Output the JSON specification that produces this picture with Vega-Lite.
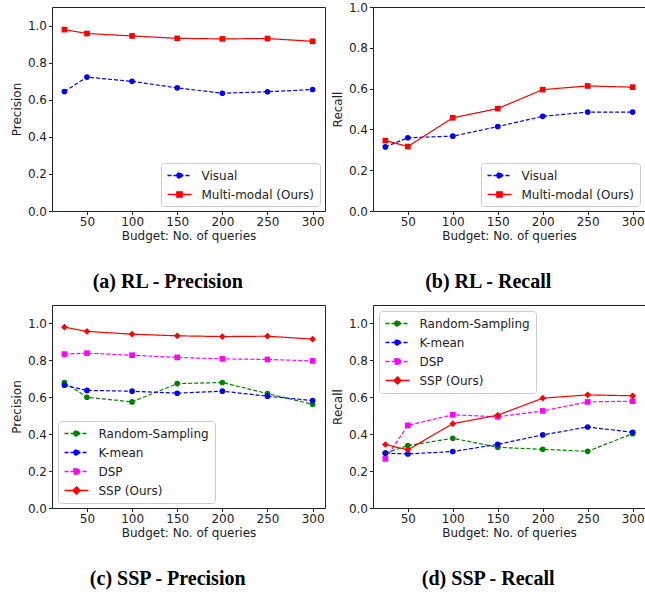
{
  "$schema": "https://vega.github.io/schema/vega-lite/v6.json",
  "padding": {"left": 9, "top": 0, "right": 0, "bottom": 0},
  "background": "white",
  "datasets": {
    "a": [
      {"budget": 25, "value": 0.644, "method": "Visual"},
      {"budget": 50, "value": 0.722, "method": "Visual"},
      {"budget": 100, "value": 0.699, "method": "Visual"},
      {"budget": 150, "value": 0.664, "method": "Visual"},
      {"budget": 200, "value": 0.635, "method": "Visual"},
      {"budget": 250, "value": 0.643, "method": "Visual"},
      {"budget": 300, "value": 0.655, "method": "Visual"},
      {"budget": 25, "value": 0.978, "method": "Multi-modal (Ours)"},
      {"budget": 50, "value": 0.957, "method": "Multi-modal (Ours)"},
      {"budget": 100, "value": 0.944, "method": "Multi-modal (Ours)"},
      {"budget": 150, "value": 0.931, "method": "Multi-modal (Ours)"},
      {"budget": 200, "value": 0.928, "method": "Multi-modal (Ours)"},
      {"budget": 250, "value": 0.930, "method": "Multi-modal (Ours)"},
      {"budget": 300, "value": 0.915, "method": "Multi-modal (Ours)"}
    ],
    "b": [
      {"budget": 25, "value": 0.314, "method": "Visual"},
      {"budget": 50, "value": 0.359, "method": "Visual"},
      {"budget": 100, "value": 0.367, "method": "Visual"},
      {"budget": 150, "value": 0.414, "method": "Visual"},
      {"budget": 200, "value": 0.464, "method": "Visual"},
      {"budget": 250, "value": 0.485, "method": "Visual"},
      {"budget": 300, "value": 0.485, "method": "Visual"},
      {"budget": 25, "value": 0.345, "method": "Multi-modal (Ours)"},
      {"budget": 50, "value": 0.316, "method": "Multi-modal (Ours)"},
      {"budget": 100, "value": 0.457, "method": "Multi-modal (Ours)"},
      {"budget": 150, "value": 0.502, "method": "Multi-modal (Ours)"},
      {"budget": 200, "value": 0.595, "method": "Multi-modal (Ours)"},
      {"budget": 250, "value": 0.613, "method": "Multi-modal (Ours)"},
      {"budget": 300, "value": 0.607, "method": "Multi-modal (Ours)"}
    ],
    "c": [
      {"budget": 25, "value": 0.680, "method": "Random-Sampling"},
      {"budget": 50, "value": 0.600, "method": "Random-Sampling"},
      {"budget": 100, "value": 0.575, "method": "Random-Sampling"},
      {"budget": 150, "value": 0.674, "method": "Random-Sampling"},
      {"budget": 200, "value": 0.680, "method": "Random-Sampling"},
      {"budget": 250, "value": 0.620, "method": "Random-Sampling"},
      {"budget": 300, "value": 0.562, "method": "Random-Sampling"},
      {"budget": 25, "value": 0.665, "method": "K-mean"},
      {"budget": 50, "value": 0.637, "method": "K-mean"},
      {"budget": 100, "value": 0.633, "method": "K-mean"},
      {"budget": 150, "value": 0.622, "method": "K-mean"},
      {"budget": 200, "value": 0.633, "method": "K-mean"},
      {"budget": 250, "value": 0.606, "method": "K-mean"},
      {"budget": 300, "value": 0.582, "method": "K-mean"},
      {"budget": 25, "value": 0.834, "method": "DSP"},
      {"budget": 50, "value": 0.839, "method": "DSP"},
      {"budget": 100, "value": 0.828, "method": "DSP"},
      {"budget": 150, "value": 0.816, "method": "DSP"},
      {"budget": 200, "value": 0.808, "method": "DSP"},
      {"budget": 250, "value": 0.805, "method": "DSP"},
      {"budget": 300, "value": 0.797, "method": "DSP"},
      {"budget": 25, "value": 0.980, "method": "SSP (Ours)"},
      {"budget": 50, "value": 0.957, "method": "SSP (Ours)"},
      {"budget": 100, "value": 0.942, "method": "SSP (Ours)"},
      {"budget": 150, "value": 0.933, "method": "SSP (Ours)"},
      {"budget": 200, "value": 0.929, "method": "SSP (Ours)"},
      {"budget": 250, "value": 0.931, "method": "SSP (Ours)"},
      {"budget": 300, "value": 0.915, "method": "SSP (Ours)"}
    ],
    "d": [
      {"budget": 25, "value": 0.298, "method": "Random-Sampling"},
      {"budget": 50, "value": 0.338, "method": "Random-Sampling"},
      {"budget": 100, "value": 0.378, "method": "Random-Sampling"},
      {"budget": 150, "value": 0.329, "method": "Random-Sampling"},
      {"budget": 200, "value": 0.318, "method": "Random-Sampling"},
      {"budget": 250, "value": 0.307, "method": "Random-Sampling"},
      {"budget": 300, "value": 0.403, "method": "Random-Sampling"},
      {"budget": 25, "value": 0.297, "method": "K-mean"},
      {"budget": 50, "value": 0.293, "method": "K-mean"},
      {"budget": 100, "value": 0.306, "method": "K-mean"},
      {"budget": 150, "value": 0.345, "method": "K-mean"},
      {"budget": 200, "value": 0.396, "method": "K-mean"},
      {"budget": 250, "value": 0.439, "method": "K-mean"},
      {"budget": 300, "value": 0.410, "method": "K-mean"},
      {"budget": 25, "value": 0.266, "method": "DSP"},
      {"budget": 50, "value": 0.448, "method": "DSP"},
      {"budget": 100, "value": 0.505, "method": "DSP"},
      {"budget": 150, "value": 0.494, "method": "DSP"},
      {"budget": 200, "value": 0.526, "method": "DSP"},
      {"budget": 250, "value": 0.575, "method": "DSP"},
      {"budget": 300, "value": 0.579, "method": "DSP"},
      {"budget": 25, "value": 0.344, "method": "SSP (Ours)"},
      {"budget": 50, "value": 0.315, "method": "SSP (Ours)"},
      {"budget": 100, "value": 0.457, "method": "SSP (Ours)"},
      {"budget": 150, "value": 0.503, "method": "SSP (Ours)"},
      {"budget": 200, "value": 0.595, "method": "SSP (Ours)"},
      {"budget": 250, "value": 0.613, "method": "SSP (Ours)"},
      {"budget": 300, "value": 0.608, "method": "SSP (Ours)"}
    ]
  },
  "config": {
    "font": "DejaVu Sans",
    "view": {"stroke": "#222222", "strokeWidth": 1},
    "axis": {
      "domain": false, "grid": false, "ticks": true, "tickSize": 3.5, "tickColor": "#222222",
      "labelFont": "DejaVu Sans", "labelFontSize": 12, "labelColor": "#222222", "labelPadding": 2,
      "titleFont": "DejaVu Sans", "titleFontSize": 12, "titleFontWeight": "normal", "titleColor": "#222222", "titlePadding": 3
    },
    "axisY": {"titlePadding": 4},
    "legend": {
      "labelFont": "DejaVu Sans", "labelFontSize": 12, "labelColor": "#222222",
      "strokeColor": "#cccccc", "fillColor": "#ffffff", "cornerRadius": 3, "padding": 5.5, "offset": 5.5,
      "symbolSize": 144, "labelOffset": 21, "rowPadding": 6, "symbolStrokeWidth": 1.3
    },
    "point": {"filled": true, "size": 32, "opacity": 1},
    "line": {"strokeWidth": 1.2},
    "title": {
      "orient": "bottom", "frame": "bounds", "anchor": "middle", "offset": 30,
      "font": "Liberation Serif", "fontSize": 20, "fontWeight": "bold", "color": "#000000"
    }
  },
  "resolve": {"scale": {"color": "independent", "strokeDash": "independent", "x": "independent", "y": "independent"}, "legend": {"color": "independent"}},
  "spacing": 12,
  "vconcat": [
    {
      "spacing": 4,
      "resolve": {"scale": {"color": "independent", "strokeDash": "independent", "x": "independent", "y": "independent"}, "legend": {"color": "independent"}},
      "hconcat": [
        {
          "width": 273, "height": 204,
          "title": "(a) RL - Precision",
          "data": {"name": "a"},
          "encoding": {
            "x": {"field": "budget", "type": "quantitative", "scale": {"domain": [11.25, 313.75], "nice": false, "zero": false}, "axis": {"values": [50, 100, 150, 200, 250, 300], "title": "Budget: No. of queries"}},
            "y": {"field": "value", "type": "quantitative", "scale": {"domain": [0, 1.1], "nice": false}, "axis": {"values": [0, 0.2, 0.4, 0.6, 0.8, 1.0], "format": ".1f", "title": "Precision"}},
            "color": {"field": "method", "type": "nominal", "scale": {"domain": ["Visual", "Multi-modal (Ours)"], "range": ["#0000ff", "#ff0000"]},
              "legend": {"title": null, "orient": "bottom-right",
                "encode": {"symbols": {"update": {
                  "shape": {"signal": "datum.value === 'Multi-modal (Ours)' || datum.value === 'DSP' ? 'M-1,0H3M0.55,-0.45H1.45V0.45H0.55Z' : datum.value === 'SSP (Ours)' ? 'M-1,0H3M0.4,0L1,-0.6L1.6,0L1,0.6Z' : 'M-1,0H3M0.55,0A0.45,0.45 0 1,1 1.45,0A0.45,0.45 0 1,1 0.55,0Z'"},
                  "fill": {"signal": "datum.value === 'Visual' || datum.value === 'K-mean' ? '#0000ff' : datum.value === 'Random-Sampling' ? '#008000' : datum.value === 'DSP' ? '#ff00ff' : '#ff0000'"},
                  "stroke": {"signal": "datum.value === 'Visual' || datum.value === 'K-mean' ? '#0000ff' : datum.value === 'Random-Sampling' ? '#008000' : datum.value === 'DSP' ? '#ff00ff' : '#ff0000'"},
                  "strokeDash": {"signal": "datum.value === 'Multi-modal (Ours)' || datum.value === 'SSP (Ours)' ? [1, 0] : [4, 2]"},
                  "opacity": {"value": 1}
                }}}}}
          },
          "layer": [
            {"mark": "line", "encoding": {"strokeDash": {"field": "method", "type": "nominal", "scale": {"domain": ["Visual", "Multi-modal (Ours)"], "range": [[4, 2], [1, 0]]}, "legend": null}}},
            {"transform": [{"filter": {"field": "method", "oneOf": ["Visual"]}}], "mark": {"type": "point", "shape": "circle"}},
            {"transform": [{"filter": {"field": "method", "oneOf": ["Multi-modal (Ours)"]}}], "mark": {"type": "point", "shape": "square"}}
          ]
        },
        {
          "width": 272, "height": 204,
          "title": "(b) RL - Recall",
          "data": {"name": "b"},
          "encoding": {
            "x": {"field": "budget", "type": "quantitative", "scale": {"domain": [11.25, 313.75], "nice": false, "zero": false}, "axis": {"values": [50, 100, 150, 200, 250, 300], "title": "Budget: No. of queries"}},
            "y": {"field": "value", "type": "quantitative", "scale": {"domain": [0, 1.0], "nice": false}, "axis": {"values": [0, 0.2, 0.4, 0.6, 0.8, 1.0], "format": ".1f", "title": "Recall"}},
            "color": {"field": "method", "type": "nominal", "scale": {"domain": ["Visual", "Multi-modal (Ours)"], "range": ["#0000ff", "#ff0000"]},
              "legend": {"title": null, "orient": "bottom-right",
                "encode": {"symbols": {"update": {
                  "shape": {"signal": "datum.value === 'Multi-modal (Ours)' || datum.value === 'DSP' ? 'M-1,0H3M0.55,-0.45H1.45V0.45H0.55Z' : datum.value === 'SSP (Ours)' ? 'M-1,0H3M0.4,0L1,-0.6L1.6,0L1,0.6Z' : 'M-1,0H3M0.55,0A0.45,0.45 0 1,1 1.45,0A0.45,0.45 0 1,1 0.55,0Z'"},
                  "fill": {"signal": "datum.value === 'Visual' || datum.value === 'K-mean' ? '#0000ff' : datum.value === 'Random-Sampling' ? '#008000' : datum.value === 'DSP' ? '#ff00ff' : '#ff0000'"},
                  "stroke": {"signal": "datum.value === 'Visual' || datum.value === 'K-mean' ? '#0000ff' : datum.value === 'Random-Sampling' ? '#008000' : datum.value === 'DSP' ? '#ff00ff' : '#ff0000'"},
                  "strokeDash": {"signal": "datum.value === 'Multi-modal (Ours)' || datum.value === 'SSP (Ours)' ? [1, 0] : [4, 2]"},
                  "opacity": {"value": 1}
                }}}}}
          },
          "layer": [
            {"mark": "line", "encoding": {"strokeDash": {"field": "method", "type": "nominal", "scale": {"domain": ["Visual", "Multi-modal (Ours)"], "range": [[4, 2], [1, 0]]}, "legend": null}}},
            {"transform": [{"filter": {"field": "method", "oneOf": ["Visual"]}}], "mark": {"type": "point", "shape": "circle"}},
            {"transform": [{"filter": {"field": "method", "oneOf": ["Multi-modal (Ours)"]}}], "mark": {"type": "point", "shape": "square"}}
          ]
        }
      ]
    },
    {
      "spacing": 4,
      "resolve": {"scale": {"color": "independent", "strokeDash": "independent", "x": "independent", "y": "independent"}, "legend": {"color": "independent"}},
      "hconcat": [
        {
          "width": 273, "height": 203,
          "title": "(c) SSP - Precision",
          "data": {"name": "c"},
          "encoding": {
            "x": {"field": "budget", "type": "quantitative", "scale": {"domain": [11.25, 313.75], "nice": false, "zero": false}, "axis": {"values": [50, 100, 150, 200, 250, 300], "title": "Budget: No. of queries"}},
            "y": {"field": "value", "type": "quantitative", "scale": {"domain": [0, 1.1], "nice": false}, "axis": {"values": [0, 0.2, 0.4, 0.6, 0.8, 1.0], "format": ".1f", "title": "Precision"}},
            "color": {"field": "method", "type": "nominal", "scale": {"domain": ["Random-Sampling", "K-mean", "DSP", "SSP (Ours)"], "range": ["#008000", "#0000ff", "#ff00ff", "#ff0000"]},
              "legend": {"title": null, "orient": "bottom-left",
                "encode": {"symbols": {"update": {
                  "shape": {"signal": "datum.value === 'Multi-modal (Ours)' || datum.value === 'DSP' ? 'M-1,0H3M0.55,-0.45H1.45V0.45H0.55Z' : datum.value === 'SSP (Ours)' ? 'M-1,0H3M0.4,0L1,-0.6L1.6,0L1,0.6Z' : 'M-1,0H3M0.55,0A0.45,0.45 0 1,1 1.45,0A0.45,0.45 0 1,1 0.55,0Z'"},
                  "fill": {"signal": "datum.value === 'Visual' || datum.value === 'K-mean' ? '#0000ff' : datum.value === 'Random-Sampling' ? '#008000' : datum.value === 'DSP' ? '#ff00ff' : '#ff0000'"},
                  "stroke": {"signal": "datum.value === 'Visual' || datum.value === 'K-mean' ? '#0000ff' : datum.value === 'Random-Sampling' ? '#008000' : datum.value === 'DSP' ? '#ff00ff' : '#ff0000'"},
                  "strokeDash": {"signal": "datum.value === 'Multi-modal (Ours)' || datum.value === 'SSP (Ours)' ? [1, 0] : [4, 2]"},
                  "opacity": {"value": 1}
                }}}}}
          },
          "layer": [
            {"mark": "line", "encoding": {"strokeDash": {"field": "method", "type": "nominal", "scale": {"domain": ["Random-Sampling", "K-mean", "DSP", "SSP (Ours)"], "range": [[4, 2], [4, 2], [4, 2], [1, 0]]}, "legend": null}}},
            {"transform": [{"filter": {"field": "method", "oneOf": ["Random-Sampling", "K-mean"]}}], "mark": {"type": "point", "shape": "circle"}},
            {"transform": [{"filter": {"field": "method", "oneOf": ["DSP"]}}], "mark": {"type": "point", "shape": "square"}},
            {"transform": [{"filter": {"field": "method", "oneOf": ["SSP (Ours)"]}}], "mark": {"type": "point", "shape": "diamond", "size": 45}}
          ]
        },
        {
          "width": 272, "height": 203,
          "title": "(d) SSP - Recall",
          "data": {"name": "d"},
          "encoding": {
            "x": {"field": "budget", "type": "quantitative", "scale": {"domain": [11.25, 313.75], "nice": false, "zero": false}, "axis": {"values": [50, 100, 150, 200, 250, 300], "title": "Budget: No. of queries"}},
            "y": {"field": "value", "type": "quantitative", "scale": {"domain": [0, 1.1], "nice": false}, "axis": {"values": [0, 0.2, 0.4, 0.6, 0.8, 1.0], "format": ".1f", "title": "Recall"}},
            "color": {"field": "method", "type": "nominal", "scale": {"domain": ["Random-Sampling", "K-mean", "DSP", "SSP (Ours)"], "range": ["#008000", "#0000ff", "#ff00ff", "#ff0000"]},
              "legend": {"title": null, "orient": "top-left",
                "encode": {"symbols": {"update": {
                  "shape": {"signal": "datum.value === 'Multi-modal (Ours)' || datum.value === 'DSP' ? 'M-1,0H3M0.55,-0.45H1.45V0.45H0.55Z' : datum.value === 'SSP (Ours)' ? 'M-1,0H3M0.4,0L1,-0.6L1.6,0L1,0.6Z' : 'M-1,0H3M0.55,0A0.45,0.45 0 1,1 1.45,0A0.45,0.45 0 1,1 0.55,0Z'"},
                  "fill": {"signal": "datum.value === 'Visual' || datum.value === 'K-mean' ? '#0000ff' : datum.value === 'Random-Sampling' ? '#008000' : datum.value === 'DSP' ? '#ff00ff' : '#ff0000'"},
                  "stroke": {"signal": "datum.value === 'Visual' || datum.value === 'K-mean' ? '#0000ff' : datum.value === 'Random-Sampling' ? '#008000' : datum.value === 'DSP' ? '#ff00ff' : '#ff0000'"},
                  "strokeDash": {"signal": "datum.value === 'Multi-modal (Ours)' || datum.value === 'SSP (Ours)' ? [1, 0] : [4, 2]"},
                  "opacity": {"value": 1}
                }}}}}
          },
          "layer": [
            {"mark": "line", "encoding": {"strokeDash": {"field": "method", "type": "nominal", "scale": {"domain": ["Random-Sampling", "K-mean", "DSP", "SSP (Ours)"], "range": [[4, 2], [4, 2], [4, 2], [1, 0]]}, "legend": null}}},
            {"transform": [{"filter": {"field": "method", "oneOf": ["Random-Sampling", "K-mean"]}}], "mark": {"type": "point", "shape": "circle"}},
            {"transform": [{"filter": {"field": "method", "oneOf": ["DSP"]}}], "mark": {"type": "point", "shape": "square"}},
            {"transform": [{"filter": {"field": "method", "oneOf": ["SSP (Ours)"]}}], "mark": {"type": "point", "shape": "diamond", "size": 45}}
          ]
        }
      ]
    }
  ]
}
